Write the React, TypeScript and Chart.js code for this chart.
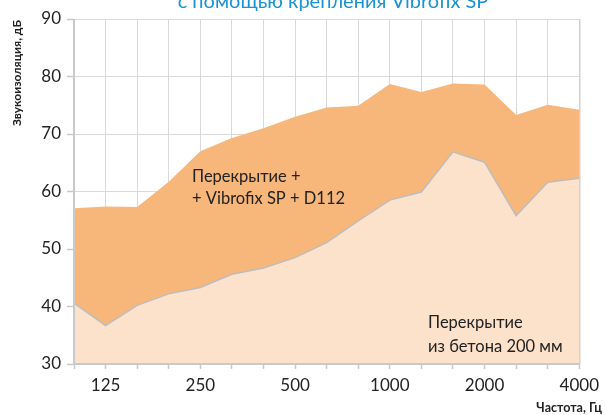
import React, { useEffect, useRef } from "react";
import { Chart, registerables } from "chart.js";

Chart.register(...registerables);

const categories = ["100", "125", "160", "200", "250", "315", "400", "500", "630", "800", "1000", "1250", "1600", "2000", "2500", "3150", "4000"];
const withVibrofix = [57.1, 57.4, 57.3, 61.7, 67.0, 69.3, 71.0, 73.0, 74.6, 74.9, 78.7, 77.3, 78.8, 78.6, 73.3, 75.1, 74.2];
const concreteSlab = [40.6, 36.7, 40.2, 42.2, 43.3, 45.6, 46.7, 48.5, 51.1, 54.9, 58.5, 59.9, 66.9, 65.1, 55.8, 61.6, 62.3];
const shownTicks = ["125", "250", "500", "1000", "2000", "4000"];

const titleText = "с помощью крепления Vibrofix SP";
const yTitle = "Звукоизоляция, дБ";
const xTitle = "Частота, Гц";
const label1 = ["Перекрытие +", "+ Vibrofix SP + D112"];
const label2 = ["Перекрытие", "из бетона 200 мм"];

const FONT = "Lato, 'Open Sans', sans-serif";

export default function App() {
  const ref = useRef<HTMLCanvasElement>(null);
  useEffect(() => {
    document.body.style.margin = "0";
    const canvas = ref.current!;
    const overlay = {
      id: "overlay",
      afterDatasetsDraw(chart: any) {
        const { ctx, chartArea: a } = chart;
        ctx.save();
        ctx.strokeStyle = "#c9c9c9";
        ctx.lineWidth = 2;
        ctx.beginPath();
        ctx.moveTo(a.left, a.top);
        ctx.lineTo(a.left, a.bottom);
        ctx.lineTo(a.right, a.bottom);
        ctx.stroke();
        ctx.strokeStyle = "#d6d0ca";
        ctx.lineWidth = 1.5;
        ctx.beginPath();
        ctx.moveTo(a.right + 0.5, a.top);
        ctx.lineTo(a.right + 0.5, a.bottom);
        ctx.stroke();
        ctx.restore();
      },
      afterDraw(chart: any) {
        const { ctx } = chart;
        ctx.save();
        ctx.fillStyle = "#1b93d3";
        ctx.font = `20px ${FONT}`;
        ctx.textAlign = "center";
        ctx.textBaseline = "alphabetic";
        ctx.fillText(titleText, 333, 8);

        ctx.fillStyle = "#222";
        ctx.font = `16.5px ${FONT}`;
        ctx.textAlign = "left";
        ctx.textBaseline = "middle";
        ctx.fillText(label1[0], 192, 177);
        ctx.fillText(label1[1], 192, 199);
        ctx.fillText(label2[0], 428, 323);
        ctx.fillText(label2[1], 428, 347);

        ctx.font = `bold 12.5px ${FONT}`;
        ctx.textAlign = "right";
        ctx.fillText(xTitle, 602, 408);

        ctx.translate(17, 73);
        ctx.rotate(-Math.PI / 2);
        ctx.textAlign = "center";
        ctx.font = `bold 12px ${FONT}`;
        ctx.fillText(yTitle, 0, 0);
        ctx.restore();
      },
    };
    const chart = new Chart(canvas, {
      type: "line",
      data: {
        labels: categories,
        datasets: [
          {
            label: "Перекрытие из бетона 200 мм",
            data: concreteSlab,
            fill: "start",
            backgroundColor: "#fce1cb",
            borderColor: "#bdbdbd",
            borderWidth: 1.5,
            pointRadius: 0,
            tension: 0,
            order: 0,
          },
          {
            label: "Перекрытие + Vibrofix SP + D112",
            data: withVibrofix,
            fill: "start",
            backgroundColor: "#f8b77a",
            borderColor: "rgba(0,0,0,0)",
            borderWidth: 0,
            pointRadius: 0,
            tension: 0,
            order: 1,
          },
        ],
      },
      options: {
        animation: false,
        responsive: false,
        maintainAspectRatio: false,
        layout: { padding: { left: 0, top: 19, right: 21, bottom: 0 } },
        plugins: { legend: { display: false }, tooltip: { enabled: false }, title: { display: false } },
        scales: {
          x: {
            offset: false,
            grid: { color: "#d9d9d9", lineWidth: 1, tickLength: 5, drawTicks: true, tickColor: "#c9c9c9", tickWidth: 1.5 },
            border: { display: false },
            ticks: {
              autoSkip: false,
              maxRotation: 0,
              color: "#222",
              font: { family: FONT, size: 17 },
              padding: 6,
              callback: (_v: any, i: number) => (shownTicks.includes(categories[i]) ? categories[i] : ""),
            },
            afterFit: (s: any) => {
              s.height = 51;
            },
          },
          y: {
            min: 30,
            max: 90,
            grid: { color: "#d9d9d9", lineWidth: 1, tickLength: 7, tickColor: "#c9c9c9", tickWidth: 1.5 },
            border: { display: false },
            ticks: {
              stepSize: 10,
              color: "#222",
              font: { family: FONT, size: 17 },
              padding: 6,
            },
            afterFit: (s: any) => {
              s.width = 74;
            },
          },
        },
      },
      plugins: [overlay],
    });
    return () => chart.destroy();
  }, []);
  return <canvas ref={ref} width={605} height={415} style={{ display: "block" }} />;
}
